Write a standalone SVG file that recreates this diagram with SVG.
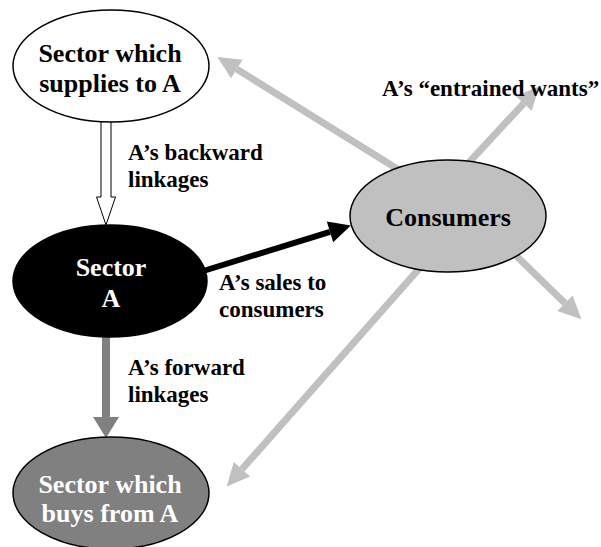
<svg xmlns="http://www.w3.org/2000/svg" width="601" height="547" viewBox="0 0 601 547">
<defs>
<style>
.node { font-size: 26px; text-anchor: middle; }
.lbl { font-size: 23px; fill: #000; }
.want { stroke: #c0c0c0; stroke-width: 7; fill: none; }
</style>
<marker id="hGray" markerUnits="userSpaceOnUse" markerWidth="24" markerHeight="24" refX="0" refY="10" orient="auto" viewBox="0 0 22 20" overflow="visible">
<path d="M0,0 L21,10 L0,20 Z" fill="#c0c0c0"/>
</marker>
<marker id="hBlack" markerUnits="userSpaceOnUse" markerWidth="24" markerHeight="24" refX="0" refY="10" orient="auto" viewBox="0 0 22 20" overflow="visible">
<path d="M0,0 L20,10 L0,20 Z" fill="#000"/>
</marker>
</defs>
<rect width="601" height="547" fill="#fff"/>

<g id="connectors">
<line class="want" x1="420" y1="183" x2="236.8" y2="69.1" marker-end="url(#hGray)"/>
<line class="want" x1="450" y1="183" x2="523.7" y2="103.4" marker-end="url(#hGray)"/>
<line class="want" x1="500" y1="240" x2="565" y2="303.3" marker-end="url(#hGray)"/>
<line class="want" x1="440" y1="245" x2="241.9" y2="469.3" marker-end="url(#hGray)"/>
<path d="M101,121 L101,197 L96.5,197 L106,225 L115.5,197 L111,197 L111,121 Z" fill="#fff" stroke="#000" stroke-width="1"/>
<line x1="200" y1="272" x2="330" y2="231.9" stroke="#000" stroke-width="6" marker-end="url(#hBlack)"/>
<path d="M102,335 L102,417 L93,417 L106,438 L119,417 L110,417 L110,335 Z" fill="#808080"/>
</g>

<g font-family="'Liberation Serif', 'Times New Roman', Times, serif" font-weight="bold">
<g id="node-supplier">
<ellipse cx="111" cy="66" rx="98" ry="56" fill="#fff" stroke="#000" stroke-width="1.5"/>
<text class="node" x="110" y="62">Sector which</text>
<text class="node" x="110" y="92">supplies to A</text>
</g>

<g id="node-sectorA">
<ellipse cx="110" cy="281" rx="97" ry="56" fill="#000" stroke="#000" stroke-width="1.5"/>
<text class="node" x="111" y="276" fill="#fff">Sector</text>
<text class="node" x="111" y="307" fill="#fff">A</text>
</g>

<g id="node-consumers">
<ellipse cx="448" cy="216" rx="98" ry="56" fill="#c0c0c0" stroke="#000" stroke-width="1.5"/>
<text class="node" x="448" y="226">Consumers</text>
</g>

<g id="node-buyer">
<ellipse cx="111" cy="493" rx="98" ry="56" fill="#808080" stroke="#000" stroke-width="1.5"/>
<text class="node" x="110" y="493" fill="#fff">Sector which</text>
<text class="node" x="110" y="522" fill="#fff">buys from A</text>
</g>

<g id="labels">
<text class="lbl" x="128" y="160">A’s backward</text>
<text class="lbl" x="128" y="187">linkages</text>
<text class="lbl" x="219" y="290">A’s sales to</text>
<text class="lbl" x="219" y="317">consumers</text>
<text class="lbl" x="128" y="375">A’s forward</text>
<text class="lbl" x="128" y="402">linkages</text>
<text class="lbl" x="382" y="96">A’s “entrained wants”</text>
</g>
</g>
</svg>
